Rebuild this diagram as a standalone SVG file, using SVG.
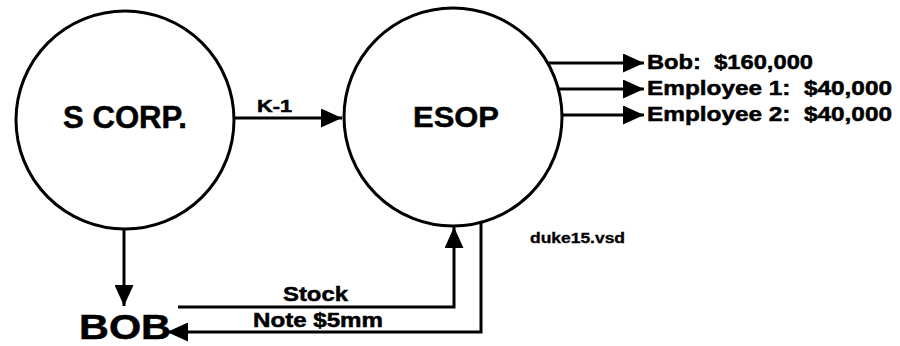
<svg xmlns="http://www.w3.org/2000/svg" width="900" height="346" viewBox="0 0 900 346">
<style>
.node{fill:#fff;stroke:#000;stroke-width:3}
.lbl{font-family:"Liberation Sans",Arial,sans-serif;font-weight:bold;fill:#000;stroke:#000;stroke-width:0.5;white-space:pre}
.con{fill:none;stroke:#000;stroke-width:3}
</style>
<defs>
<marker id="ah" viewBox="0 0 21 19" refX="21" refY="9.5" markerWidth="21" markerHeight="19" markerUnits="userSpaceOnUse" orient="auto">
<path d="M0,0 L21,9.5 L0,19 Z" fill="#000"/>
</marker>
</defs>
<rect width="900" height="346" fill="#fff"/>
<g id="scorp">
<circle class="node" cx="125" cy="120" r="109"/>
<text class="lbl" x="63" y="128" font-size="31" textLength="124" lengthAdjust="spacingAndGlyphs">S CORP.</text>
</g>
<g id="esop">
<circle class="node" cx="453" cy="117" r="109"/>
<text class="lbl" x="413" y="127" font-size="30" textLength="86" lengthAdjust="spacingAndGlyphs">ESOP</text>
</g>
<g id="bob">
<text class="lbl" x="79" y="339" font-size="35" textLength="92" lengthAdjust="spacingAndGlyphs">BOB</text>
</g>
<g id="recipients">
<text class="lbl" x="647" y="69" font-size="20" textLength="166" lengthAdjust="spacingAndGlyphs" xml:space="preserve">Bob:  $160,000</text>
<text class="lbl" x="647" y="95" font-size="20" textLength="245" lengthAdjust="spacingAndGlyphs" xml:space="preserve">Employee 1:  $40,000</text>
<text class="lbl" x="647" y="121" font-size="20" textLength="245" lengthAdjust="spacingAndGlyphs" xml:space="preserve">Employee 2:  $40,000</text>
</g>
<g id="note">
<text class="lbl" x="530" y="243" font-size="14" textLength="95" lengthAdjust="spacingAndGlyphs" style="stroke-width:0.3">duke15.vsd</text>
</g>
<g id="connectors">
<line class="con" x1="234" y1="118" x2="342" y2="118" marker-end="url(#ah)"/>
<text class="lbl" x="257" y="112" font-size="17" textLength="35" lengthAdjust="spacingAndGlyphs">K-1</text>
<line class="con" x1="548" y1="63" x2="644" y2="63" marker-end="url(#ah)"/>
<line class="con" x1="558" y1="89" x2="644" y2="89" marker-end="url(#ah)"/>
<line class="con" x1="561" y1="115" x2="644" y2="115" marker-end="url(#ah)"/>
<line class="con" x1="124" y1="229" x2="124" y2="306" marker-end="url(#ah)"/>
<polyline class="con" points="178,307 454,307 454,227" marker-end="url(#ah)"/>
<polyline class="con" points="481,222 481,332 167,332" marker-end="url(#ah)"/>
<text class="lbl" x="283" y="301" font-size="21" textLength="65" lengthAdjust="spacingAndGlyphs">Stock</text>
<text class="lbl" x="253" y="327" font-size="20" textLength="130" lengthAdjust="spacingAndGlyphs">Note $5mm</text>
</g>
</svg>
